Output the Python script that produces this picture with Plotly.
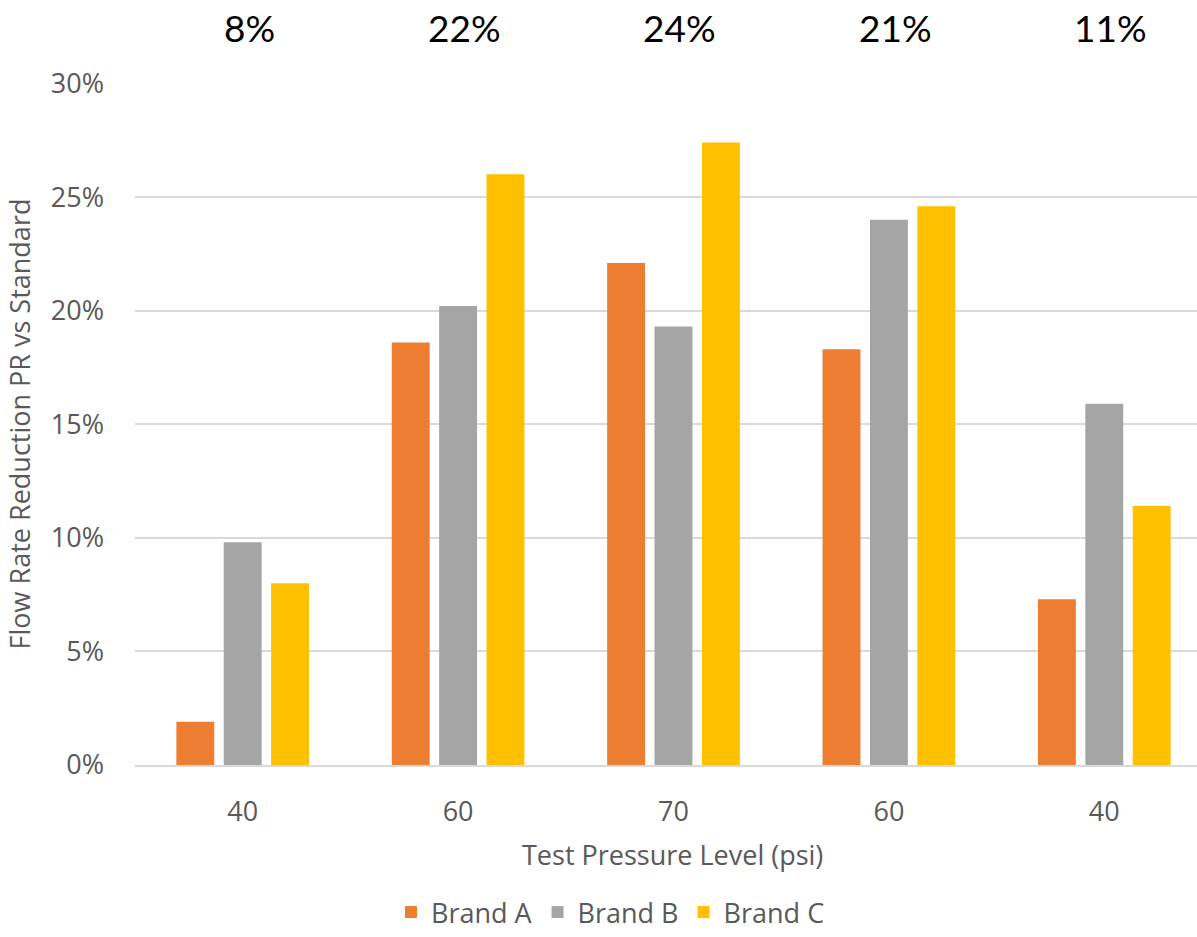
import plotly.graph_objects as go

# Test pressure levels (psi) for each test run, in run order
pressure_labels = ["40", "60", "70", "60", "40"]
run_index = [0, 1, 2, 3, 4]

# Flow rate reduction of each pressure-reducing brand vs standard
brand_a = [0.019, 0.186, 0.221, 0.183, 0.073]
brand_b = [0.098, 0.202, 0.193, 0.240, 0.159]
brand_c = [0.080, 0.260, 0.274, 0.246, 0.114]

# Average reduction across brands for each run
run_average = ["8%", "22%", "24%", "21%", "11%"]

series = [
    ("Brand A", brand_a, "#ED7D31"),
    ("Brand B", brand_b, "#A5A5A5"),
    ("Brand C", brand_c, "#FFC000"),
]

TEXT = "#595959"
SIZE = 27

fig = go.Figure()
for name, values, color in series:
    fig.add_trace(go.Bar(
        x=run_index, y=values, name=name,
        marker=dict(color=color, line=dict(width=0)),
    ))

for i, label in zip(run_index, run_average):
    fig.add_annotation(
        x=i + 0.03, y=1.082, xref="x", yref="paper",
        text=label, showarrow=False,
        font=dict(family="Lato", size=37, color="#000000"),
        xanchor="center", yanchor="middle",
    )

fig.add_annotation(
    x=(672 - 135) / 1062, y=-90 / 682, xref="paper", yref="paper",
    text="Test Pressure Level (psi)", showarrow=False,
    font=dict(family="Open Sans", size=SIZE, color=TEXT),
    xanchor="center", yanchor="middle",
)

fig.update_layout(
    width=1197, height=937,
    margin=dict(l=135, r=0, t=83, b=172),
    plot_bgcolor="white", paper_bgcolor="white",
    barmode="group", bargap=0.34, bargroupgap=0.2,
    font=dict(family="Open Sans", color=TEXT),
    legend=dict(
        orientation="h", xref="container", x=0.51, xanchor="center",
        yref="container", y=0, yanchor="bottom",
        font=dict(size=SIZE, color=TEXT),
        traceorder="normal",
    ),
    xaxis=dict(
        range=[-0.5, 4.5 - 15 / 215.5],
        tickmode="array", tickvals=run_index, ticktext=pressure_labels,
        tickfont=dict(size=SIZE, color=TEXT),
        showgrid=False, zeroline=False,
        showline=True, linecolor="#D9D9D9", linewidth=2,
        ticks="", ticklabelstandoff=22,
    ),
    yaxis=dict(
        range=[0, 0.3002],
        tickmode="array", tickvals=[0, 0.05, 0.10, 0.15, 0.20, 0.25, 0.30],
        tickformat=".0%",
        tickfont=dict(size=SIZE, color=TEXT),
        showgrid=True, gridcolor="#D9D9D9", gridwidth=2,
        zeroline=False, ticks="", ticklabelstandoff=30,
        title=dict(text="Flow Rate Reduction PR vs Standard",
                   font=dict(size=SIZE, color=TEXT), standoff=12),
    ),
)

fig.write_html("out.html")
